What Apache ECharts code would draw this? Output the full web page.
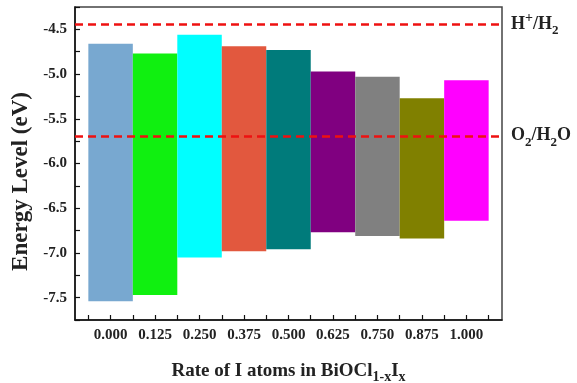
<!DOCTYPE html>
<html>
<head>
<meta charset="utf-8">
<script src="https://cdn.jsdelivr.net/npm/echarts@6/dist/echarts.min.js"></script>
<style>
    html, body { margin: 0; padding: 0; background: #fff; }
    #chart { width: 577px; height: 383px; }
</style>
</head>
<body>
<div id="chart"></div>
<script>
    // x 值（I 的比例）
    var rates = ['0.000', '0.125', '0.250', '0.375', '0.500', '0.625', '0.750', '0.875', '1.000'];
    // 导带底 / 价带顶 (eV)
    var cbm = [-4.66, -4.77, -4.56, -4.69, -4.73, -4.97, -5.03, -5.27, -5.07];
    var vbm = [-7.54, -7.47, -7.05, -6.98, -6.96, -6.77, -6.81, -6.84, -6.64];
    // 氧化还原电位
    var redoxLevels = [-4.44, -5.69];
    var redoxLabels = ['{a|H}{sup|+}{a|/H}{sub|2}', '{a|O}{sub|2}{a|/H}{sub|2}{a|O}'];
    // y轴刻度
    var yTicks = ['-7.5', '-7.0', '-6.5', '-6.0', '-5.5', '-5.0', '-4.5'];

    var barColors = ['#78a8d0', '#10f010', '#00ffff', '#e2583e', '#007b7b', '#800080', '#808080', '#808000', '#ff00ff'];
    var serif = '"Liberation Serif", "DejaVu Serif", serif';

    var xPos = rates.map(function (r) { return parseFloat(r); });
    var step = xPos[1] - xPos[0];
    var xTickVals = [];
    for (var i = 0; i <= xPos.length * 2; i++) {
        xTickVals.push(xPos[0] - step / 2 + i * step / 2);
    }

    var barData = [];
    for (var i = 0; i < rates.length; i++) {
        barData.push([xPos[i], vbm[i], cbm[i]]);
    }

    var richText = {
        a: { fontFamily: serif, fontWeight: 'bold', fontSize: 18, color: '#222', lineHeight: 26, verticalAlign: 'middle' },
        sup: { fontFamily: serif, fontWeight: 'bold', fontSize: 14, color: '#222', verticalAlign: 'top' },
        sub: { fontFamily: serif, fontWeight: 'bold', fontSize: 13, color: '#222', verticalAlign: 'bottom' }
    };

    var myChart = echarts.init(document.getElementById('chart'));
    myChart.setOption({
        animation: false,
        grid: {
            left: 75,
            right: 75,
            top: 7,
            bottom: 63,
            outerBoundsMode: 'none',
            containLabel: false,
            show: true,
            borderColor: '#444',
            borderWidth: 1.5
        },
        xAxis: {
            type: 'value',
            min: -0.1,
            max: 1.1,
            name: '{a|Rate of I atoms in BiOCl}{sub|1-x}{a|I}{sub|x}',
            nameLocation: 'middle',
            nameGap: 38,
            nameTextStyle: {
                rich: {
                    a: { fontFamily: serif, fontWeight: 'bold', fontSize: 19, color: '#222', lineHeight: 26, verticalAlign: 'middle' },
                    sub: { fontFamily: serif, fontWeight: 'bold', fontSize: 14, color: '#222', verticalAlign: 'bottom' }
                }
            },
            axisLine: { onZero: false, lineStyle: { color: '#111', width: 1.5 } },
            axisTick: { inside: true, length: 5, lineStyle: { color: '#111', width: 1.2 }, customValues: xTickVals },
            axisLabel: {
                customValues: xPos,
                formatter: function (v) { return v.toFixed(3); },
                fontFamily: serif, fontWeight: 'bold', fontSize: 15, color: '#222', margin: 8
            },
            splitLine: { show: false }
        },
        yAxis: {
            type: 'value',
            min: -7.75,
            max: -4.25,
            interval: 0.25,
            name: 'Energy Level (eV)',
            nameLocation: 'middle',
            nameGap: 42,
            nameTextStyle: { fontFamily: serif, fontWeight: 'bold', fontSize: 23, color: '#222', padding: [0, 36, 0, 0] },
            axisLine: { show: true, onZero: false, lineStyle: { color: '#111', width: 1.5 } },
            axisTick: { inside: true, length: 5, lineStyle: { color: '#111', width: 1.2 } },
            axisLabel: {
                formatter: function (v) {
                    var s = v.toFixed(1);
                    return yTicks.indexOf(s) >= 0 && Math.abs(v - parseFloat(s)) < 1e-6 ? s : '';
                },
                fontFamily: serif, fontWeight: 'bold', fontSize: 15, color: '#222', margin: 8
            },
            splitLine: { show: false }
        },
        series: [
            {
                type: 'custom',
                name: 'band',
                data: barData,
                renderItem: function (params, api) {
                    var x = api.value(0);
                    var top = api.coord([x, api.value(2)]);
                    var bottom = api.coord([x, api.value(1)]);
                    var w = api.size([step, 0])[0];
                    return {
                        type: 'rect',
                        shape: { x: top[0] - w / 2, y: top[1], width: w, height: bottom[1] - top[1] },
                        style: { fill: barColors[params.dataIndex] }
                    };
                },
                markLine: {
                    silent: true,
                    symbol: 'none',
                    lineStyle: { color: '#ee1111', type: [8, 5], width: 2.5 },
                    label: {
                        show: true,
                        position: 'end',
                        distance: 9,
                        rich: richText,
                        formatter: function (p) { return redoxLabels[p.dataIndex]; }
                    },
                    data: redoxLevels.map(function (v) { return { yAxis: v }; })
                }
            }
        ]
    });
</script>
</body>
</html>
